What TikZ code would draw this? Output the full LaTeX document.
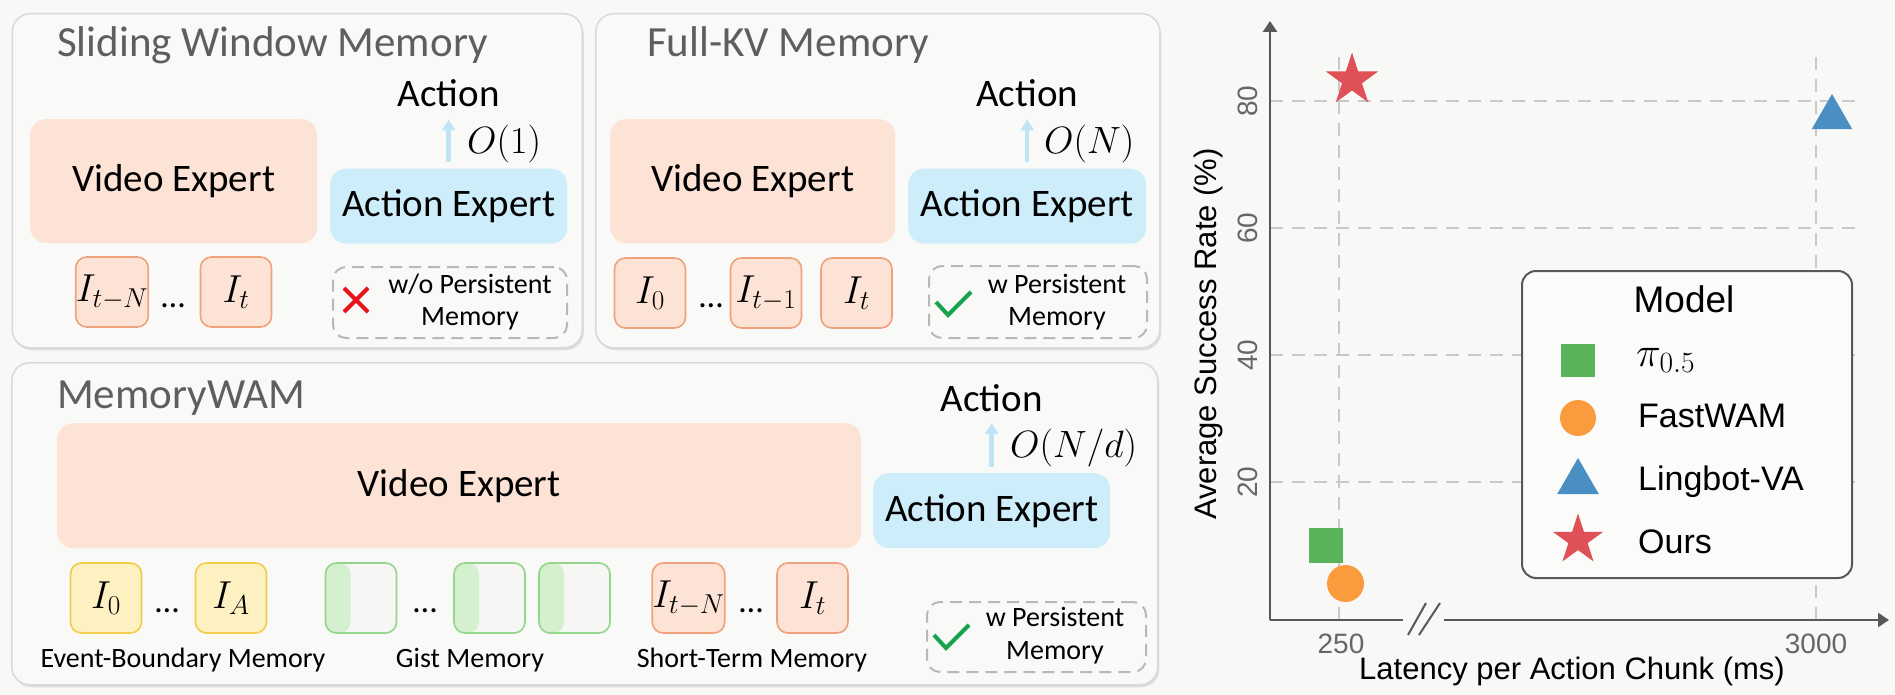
\documentclass[tikz,border=0pt]{standalone}
\usepackage{fix-cm}
\usepackage{fontspec}
\setmainfont{Carlito}
\newfontfamily\chartfont{Liberation Sans}
\usetikzlibrary{shapes.geometric, arrows.meta, positioning, shadows}

\definecolor{pagebg}{HTML}{F8F8F6}
\definecolor{panelfill}{HTML}{F9F9F8}
\definecolor{panelline}{HTML}{D9D9D9}
\definecolor{titlegray}{HTML}{5E5E5E}
\definecolor{videofill}{HTML}{FCE3D6}
\definecolor{actfill}{HTML}{CDEDFB}
\definecolor{arrowblue}{HTML}{BFE4F6}
\definecolor{frmfill}{HTML}{FCE3D5}
\definecolor{frmline}{HTML}{EFA27C}
\definecolor{evtfill}{HTML}{FDF1C2}
\definecolor{evtline}{HTML}{F3CC4A}
\definecolor{gistfill}{HTML}{F6F6F5}
\definecolor{giststripe}{HTML}{D5F0CF}
\definecolor{gistline}{HTML}{94D68B}
\definecolor{dashgray}{HTML}{B8B8B8}
\definecolor{crossred}{HTML}{E8141C}
\definecolor{checkgreen}{HTML}{17A24C}
\definecolor{gridgray}{HTML}{C9C9C9}
\definecolor{axisgray}{HTML}{585858}
\definecolor{tickgray}{HTML}{666666}
\definecolor{mkgreen}{HTML}{58B35A}
\definecolor{mkorange}{HTML}{FA9B3E}
\definecolor{mkblue}{HTML}{4A8FC3}
\definecolor{mkred}{HTML}{DF5156}

\tikzset{
  panel/.style={
    rectangle, draw=panelline, fill=panelfill, line width=1.5pt,
    rounded corners=18pt, anchor=north west,
    drop shadow={shadow xshift=1.5pt, shadow yshift=-2.5pt, opacity=0.10, fill=black}
  },
  ptitle/.style={anchor=base west, text=titlegray, font=\fontsize{43}{51}\selectfont},
  expert/.style={
    rectangle, fill=#1, rounded corners=16pt, anchor=north west,
    font=\fontsize{39}{47}\selectfont
  },
  frm/.style 2 args={
    rectangle, fill=#1, draw=#2, line width=1.6pt, rounded corners=11pt,
    minimum width=71pt, minimum height=70pt,
    font=\fontsize{39}{45}\selectfont
  },
  gist/.style={
    frm={gistfill}{gistline},
    path picture={\fill[giststripe] (path picture bounding box.south west)
      rectangle ([xshift=25pt]path picture bounding box.north west);}
  },
  membox/.style={
    rectangle, draw=dashgray, line width=2pt, dash pattern=on 12pt off 7pt,
    rounded corners=13pt, anchor=north west
  },
  memtxt/.style={anchor=base, font=\fontsize{28}{33}\selectfont},
  ellip/.style={anchor=base, font=\fontsize{34}{40}\selectfont},
  actlbl/.style={font=\fontsize{39}{47}\selectfont},
  cplx/.style={anchor=west, font=\fontsize{38}{44}\selectfont},
  uparr/.style={line width=4.5pt, arrowblue, -{Triangle[width=13pt,length=11pt]},
    shorten <=6.5pt, shorten >=13pt},
  xmk/.style={line width=4pt, crossred},
  checkmk/.style={line width=4pt, checkgreen}
}

\begin{document}
\begin{tikzpicture}[
    x=1pt, y=-1pt, inner sep=0pt,
    gridln/.style={gridgray, line width=2.2pt, dash pattern=on 13pt off 9pt},
    axisln/.style={axisgray, line width=2.5pt},
    axarr/.style={axisln, -{Triangle[width=14pt,length=11pt]}},
    tklbl/.style={text=tickgray, font=\chartfont\fontsize{28}{33}\selectfont},
    axlbl/.style={font=\chartfont\fontsize{31}{37}\selectfont},
    legtxt/.style={anchor=base west, font=\chartfont\fontsize{34}{40}\selectfont},
    sqmk/.style={rectangle, fill=mkgreen, minimum width=34pt, minimum height=35pt},
    cmk/.style={circle, fill=mkorange, minimum size=37pt},
    tmk/.style={regular polygon, regular polygon sides=3, fill=mkblue, minimum size=47pt},
    smk/.style={star, star points=5, star point ratio=2.618, fill=mkred, minimum size=55pt}
  ]
  \fill[pagebg] (0,0) rectangle (1895,695);
  \useasboundingbox (0,0) rectangle (1895,695);

  % panels
  \node[panel, minimum width=570pt, minimum height=334pt] (slide) at (11.5,13) {};
  \node[panel, minimum width=564pt, minimum height=334pt] (fullkv) at (595,13) {};
  \node[panel, minimum width=1146pt, minimum height=322pt] (mwam) at (11,362) {};

  \node[ptitle] (slidettl) at (57,57) {Sliding Window Memory};
  \node[ptitle] (fullttl) at (647,57) {Full-KV Memory};
  \node[ptitle] (mwamttl) at (57,408) {MemoryWAM};

  % sliding window
  \node[expert=videofill, minimum width=287pt, minimum height=124pt] (vidA) at (30,119) {Video Expert};
  \node[expert=actfill, minimum width=237pt, minimum height=75pt] (actA) at (330,168.5) {Action Expert};
  \node[actlbl, above=62pt of actA] (outA) {Action};
  \draw[uparr] (actA.north) -- (outA.south);
  \node[cplx] (cA) at (467,144.5) {$O(1)$};

  \node[frm={frmfill}{frmline}] (fA1) at (112,292) {$I_{t-N}$};
  \node[ellip] (dA) at (173,307) {\dots};
  \node[frm={frmfill}{frmline}] (fA2) at (236,292) {$I_t$};

  \node[membox, minimum width=234pt, minimum height=71pt] (memA) at (332,266) {};
  \node[memtxt] (memA1) at (470,293) {w/o Persistent};
  \node[memtxt] (memA2) at (470,325) {Memory};
  \coordinate (xA) at (356,300);
  \draw[xmk] (xA) ++(-12,-12) -- ++(24,24) (xA) ++(-12,12) -- ++(24,-24);

  % full-kv
  \node[expert=videofill, minimum width=285pt, minimum height=124pt] (vidB) at (610,119) {Video Expert};
  \node[expert=actfill, minimum width=238pt, minimum height=75pt] (actB) at (908,168.5) {Action Expert};
  \node[actlbl, above=62pt of actB] (outB) {Action};
  \draw[uparr] (actB.north) -- (outB.south);
  \node[cplx] (cB) at (1044,144.5) {$O(N)$};

  \node[frm={frmfill}{frmline}] (fB1) at (650,293) {$I_0$};
  \node[ellip] (dB) at (711,307) {\dots};
  \node[frm={frmfill}{frmline}] (fB2) at (766,293) {$I_{t-1}$};
  \node[frm={frmfill}{frmline}] (fB3) at (856.5,293) {$I_t$};

  \node[membox, minimum width=218pt, minimum height=72pt] (memB) at (928,265) {};
  \node[memtxt] (memB1) at (1057,293) {w Persistent};
  \node[memtxt] (memB2) at (1057,325) {Memory};
  \coordinate (okB) at (936,302);
  \draw[checkmk] (okB) -- ++(12,13) -- ++(23,-23);

  % memorywam
  \node[expert=videofill, minimum width=804pt, minimum height=125pt] (vidC) at (57,423) {Video Expert};
  \node[expert=actfill, minimum width=237pt, minimum height=75pt] (actC) at (873,473) {Action Expert};
  \node[actlbl, above=61pt of actC] (outC) {Action};
  \draw[uparr, shorten >=11pt] (actC.north) -- (outC.south);
  \node[cplx] (cC) at (1010,448) {$O(N/d)$};

  \node[frm={evtfill}{evtline}] (eC1) at (106,598) {$I_0$};
  \node[ellip] (dC1) at (167,612) {\dots};
  \node[frm={evtfill}{evtline}] (eC2) at (231,598) {$I_A$};

  \node[gist] (gC1) at (361,598) {};
  \node[ellip] (dC2) at (425,612) {\dots};
  \node[gist] (gC2) at (489.5,598) {};
  \node[gist] (gC3) at (574.5,598) {};

  \node[frm={frmfill}{frmline}] (sC1) at (688.5,598) {$I_{t-N}$};
  \node[ellip] (dC3) at (751,612) {\dots};
  \node[frm={frmfill}{frmline}] (sC2) at (812.5,598) {$I_t$};

  \node[memtxt] (evtlbl) at (183,667) {Event-Boundary Memory};
  \node[memtxt] (gistlbl) at (470,667) {Gist Memory};
  \node[memtxt] (shortlbl) at (752,667) {Short-Term Memory};

  \node[membox, minimum width=219pt, minimum height=70pt] (memC) at (926,601) {};
  \node[memtxt] (memC1) at (1055,626) {w Persistent};
  \node[memtxt] (memC2) at (1055,659) {Memory};
  \coordinate (okC) at (934,635);
  \draw[checkmk] (okC) -- ++(12,13) -- ++(23,-23);

  % chart
  \coordinate (org) at (1270,620);
  \foreach \v in {20,40,60,80} {
    \draw[gridln] (1270,{609-6.35*\v}) -- (1858,{609-6.35*\v});
    \node[tklbl, rotate=90, anchor=base] (yt\v) at (1257,{609-6.35*\v}) {\v};
  }
  \draw[gridln] (1339,57) -- (1339,620);
  \draw[gridln] (1816,57) -- (1816,620);

  \node[sqmk] (pi) at (1326,545) {};
  \node[cmk] (fast) at (1345.5,583.5) {};
  \node[tmk] (ling) at (1832,117.5) {};
  \node[smk] (ours) at (1352,80) {};

  \draw[axarr] (org) -- (1270,21);
  \draw[axisln] (org) -- (1403,620);
  \draw[axarr] (1444,620) -- (1889,620);
  \draw[axisln, line width=2pt] (1408,635) -- (1426,603) (1419,635) -- (1440,603);

  \node[tklbl, anchor=base] (xt1) at (1341,653) {250};
  \node[tklbl, anchor=base] (xt2) at (1816,653) {3000};
  \node[axlbl, anchor=base] (xlab) at (1572,679) {Latency per Action Chunk (ms)};
  \node[axlbl, rotate=90, anchor=base] (ylab) at (1216,334) {Average Success Rate (\%)};

  % legend
  \node[rectangle, draw=axisgray, fill=pagebg!60!white, line width=2pt, rounded corners=14pt,
        anchor=north west, minimum width=330pt, minimum height=307pt] (leg) at (1521,270) {};
  \node[font=\chartfont\fontsize{37}{44}\selectfont] (legttl) at (1684,299) {Model};
  \node[sqmk, minimum height=33pt] (legpi) at (1578,360) {};
  \node[cmk, minimum size=36pt] (legfast) at (1578,418) {};
  \node[tmk, minimum size=48pt] (legling) at (1578,482) {};
  \node[smk, minimum size=53pt] (legours) at (1578,540) {};
  \node[legtxt, font=\fontsize{42}{48}\selectfont] (legpit) at (1636,366) {$\pi_{0.5}$};
  \node[legtxt] (legfastt) at (1638,427) {FastWAM};
  \node[legtxt] (leglingt) at (1638,490) {Lingbot-VA};
  \node[legtxt] (legourst) at (1638,553) {Ours};
\end{tikzpicture}
\end{document}
